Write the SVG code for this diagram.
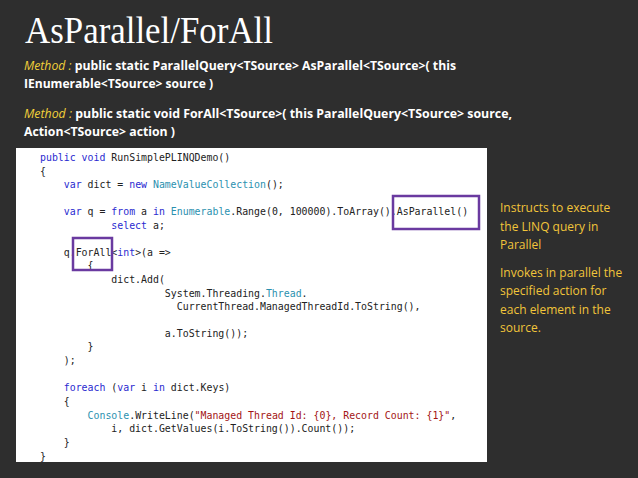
<svg xmlns="http://www.w3.org/2000/svg" width="638" height="478" viewBox="0 0 638 478">
<style>
.t{font-family:"Liberation Serif","DejaVu Serif",serif;fill:#fff}
.m{font-family:"Open Sans","Liberation Sans",sans-serif;font-size:13px;fill:#fff;font-weight:bold}
.y{fill:#f2d13a;font-weight:normal;font-style:italic}
.r{font-family:"Open Sans","Liberation Sans",sans-serif;font-size:12px;fill:#f2c53a}
.c{font-family:"DejaVu Sans Mono","Liberation Mono",monospace;font-size:9.9px;fill:#222;white-space:pre}
.k{fill:#2a2ad0}.ty{fill:#2b91af}.s{fill:#a31515}
.hl{fill:none;stroke:#6a3aa0;stroke-width:2.5}
</style>
<rect width="638" height="478" fill="#2e2e2e"/>
<text class="t" x="25" y="43" font-size="38" textLength="248" lengthAdjust="spacingAndGlyphs">AsParallel/ForAll</text>
<text class="m" x="24" y="70" textLength="432" lengthAdjust="spacingAndGlyphs"><tspan class="y">Method : </tspan>public static ParallelQuery&lt;TSource&gt; AsParallel&lt;TSource&gt;( this</text>
<text class="m" x="24" y="88" textLength="189" lengthAdjust="spacingAndGlyphs">IEnumerable&lt;TSource&gt; source )</text>
<text class="m" x="24" y="118" textLength="488" lengthAdjust="spacingAndGlyphs"><tspan class="y">Method : </tspan>public static void ForAll&lt;TSource&gt;( this ParallelQuery&lt;TSource&gt; source,</text>
<text class="m" x="24" y="136" textLength="151" lengthAdjust="spacingAndGlyphs">Action&lt;TSource&gt; action )</text>
<g id="code">
<rect x="16" y="148" width="471" height="314" fill="#fff"/>
<text class="c" x="40" y="161"><tspan class="k">public void</tspan> RunSimplePLINQDemo()</text>
<text class="c" x="40" y="175">{</text>
<text class="c" x="40" y="188">    <tspan class="k">var</tspan> dict = <tspan class="k">new</tspan> <tspan class="ty">NameValueCollection</tspan>();</text>
<text class="c" x="40" y="215">    <tspan class="k">var</tspan> q = <tspan class="k">from</tspan> a <tspan class="k">in</tspan> <tspan class="ty">Enumerable</tspan>.Range(0, 100000).ToArray().AsParallel()</text>
<text class="c" x="40" y="229">            <tspan class="k">select</tspan> a;</text>
<text class="c" x="40" y="256">    q.ForAll&lt;<tspan class="k">int</tspan>&gt;(a =&gt;</text>
<text class="c" x="40" y="269">        {</text>
<text class="c" x="40" y="283">            dict.Add(</text>
<text class="c" x="40" y="297">                     System.Threading.<tspan class="ty">Thread</tspan>.</text>
<text class="c" x="40" y="310">                       CurrentThread.ManagedThreadId.ToString(),</text>
<text class="c" x="40" y="337">                     a.ToString());</text>
<text class="c" x="40" y="350">        }</text>
<text class="c" x="40" y="364">    );</text>
<text class="c" x="40" y="391">    <tspan class="k">foreach</tspan> (<tspan class="k">var</tspan> i <tspan class="k">in</tspan> dict.Keys)</text>
<text class="c" x="40" y="405">    {</text>
<text class="c" x="40" y="419">        <tspan class="ty">Console</tspan>.WriteLine(<tspan class="s">"Managed Thread Id: {0}, Record Count: {1}"</tspan>,</text>
<text class="c" x="40" y="432">            i, dict.GetValues(i.ToString()).Count());</text>
<text class="c" x="40" y="446">    }</text>
<text class="c" x="40" y="460">}</text>
<rect class="hl" x="393" y="196" width="86" height="33"/>
<rect class="hl" x="73" y="238" width="39" height="32"/>
</g>
<g id="notes">
<text class="r" x="500" y="212">Instructs to execute</text>
<text class="r" x="500" y="231">the LINQ query in</text>
<text class="r" x="500" y="249">Parallel</text>
<text class="r" x="500" y="277">Invokes in parallel the</text>
<text class="r" x="500" y="295">specified action for</text>
<text class="r" x="500" y="314">each element in the</text>
<text class="r" x="500" y="332">source.</text>
</g>
</svg>
